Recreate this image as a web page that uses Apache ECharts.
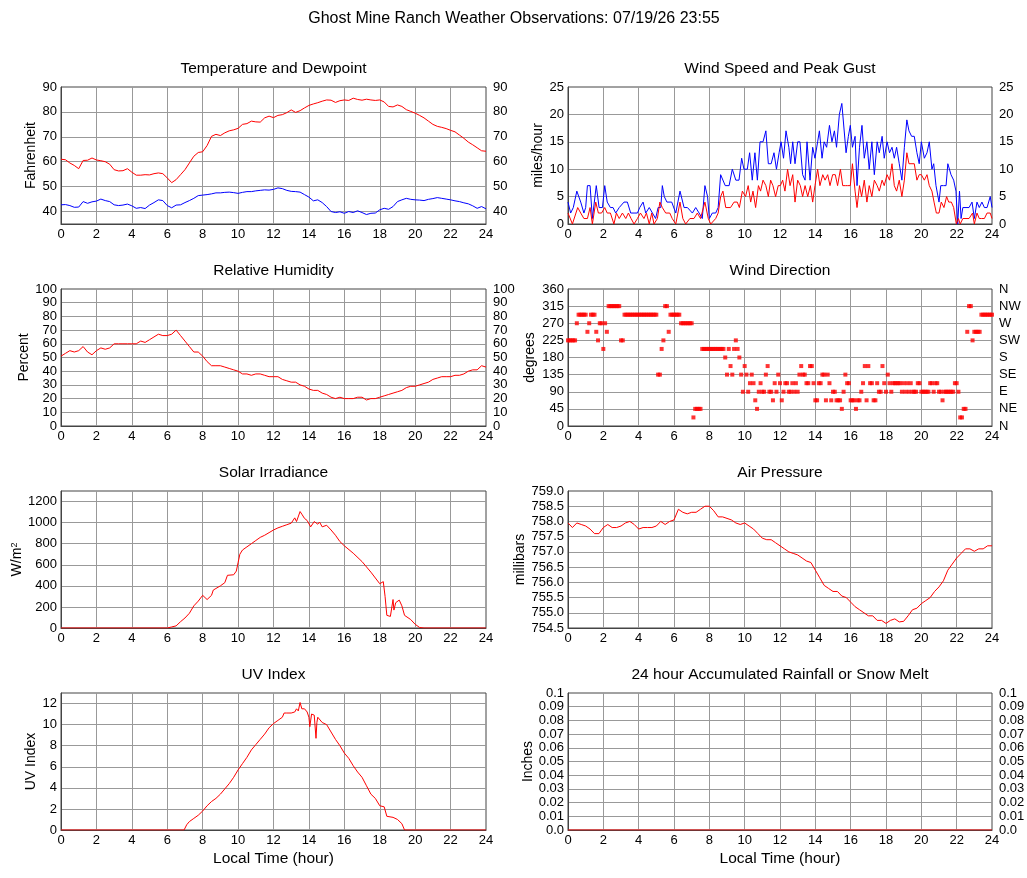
<!DOCTYPE html>
<html>
<head>
<meta charset="utf-8">
<title>Ghost Mine Ranch Weather Observations</title>
<script src="https://cdn.jsdelivr.net/npm/echarts@6/dist/echarts.min.js"></script>
<style>
    html, body { margin: 0; padding: 0; background: #fff; }
    #chart { width: 1027px; height: 878px; }
</style>
</head>
<body>
<div id="chart"></div>
<script>
// 15 minute samples, 0h .. 24h
var STEP = 0.25;

var tempF = [
    61.0, 60.8, 59.5, 58.5,  57.2, 60.5, 60.6, 61.5,  60.7, 60.4, 60.0, 59.0,
    56.8, 56.3, 56.4, 57.2,  55.8, 54.6, 54.6, 54.8,  54.7, 55.2, 55.5, 55.2,
    53.5, 51.6, 52.8, 54.8,  56.8, 59.5, 62.2, 63.7,  64.0, 66.5, 70.2, 71.0,
    70.5, 71.6, 72.4, 72.8,  73.4, 75.0, 75.3, 76.3,  76.0, 75.9, 77.6, 78.3,
    77.7, 78.6, 78.9, 79.7,  80.8, 79.8, 80.5, 81.6,  82.6, 83.2, 83.7, 84.3,
    84.8, 84.7, 83.8, 84.5,  84.8, 84.6, 85.5, 85.0,  84.7, 85.1, 84.8, 84.6,
    84.8, 84.0, 82.2, 82.0,  82.8, 82.2, 80.9, 80.2,  79.5, 78.6, 77.6, 76.3,
    75.0, 74.2, 73.8, 73.3,  72.6, 72.0, 70.7, 69.4,  67.9, 66.8, 65.6, 64.4,
    64.2
];
var dewF = [
    42.7, 42.8, 42.4, 41.7,  41.8, 44.0, 43.3, 43.9,  44.2, 45.0, 44.4, 44.0,
    42.7, 42.4, 42.6, 43.0,  42.3, 41.3, 41.6, 41.2,  42.6, 43.6, 44.7, 44.4,
    42.4, 41.5, 42.6, 42.7,  43.6, 44.4, 45.3, 46.4,  46.6, 46.8, 47.1, 47.5,
    47.5, 47.7, 47.8, 47.6,  47.3, 47.7, 48.0, 48.0,  48.3, 48.5, 48.7, 48.6,
    48.9, 49.5, 49.2, 48.5,  48.1, 48.0, 47.8, 46.8,  45.8, 44.3, 44.7, 43.6,
    42.0, 40.0, 39.6, 39.9,  39.3, 40.0, 39.6, 40.3,  39.6, 38.8, 39.3, 39.4,
    40.7, 41.3, 40.9, 42.0,  44.0, 44.7, 45.3, 44.9,  44.7, 44.6, 44.4, 44.9,
    45.2, 45.6, 45.3, 45.0,  44.7, 44.3, 44.0, 43.5,  43.1, 42.3, 41.3, 42.0,
    41.1
];
var humidityPct = [
    51, 53, 55, 54,  55, 58, 54, 52,  55, 57, 56, 57,  60, 60, 60, 60,
    60, 60, 62, 61,  63, 65, 67, 66,  66, 67, 70, 66,  62, 58, 54, 54,
    51, 47, 44, 44,  44, 43, 42, 41,  40, 38, 38, 37,  38, 38, 37, 36,
    36, 36, 34, 33,  32, 32, 30, 29,  27, 26, 26, 24,  23, 21, 20, 21,
    20, 20, 20, 21,  21, 19, 20, 20,  21, 22, 23, 24,  25, 26, 28, 29,
    29, 30, 31, 32,  34, 35, 36, 36,  36, 37, 37, 38,  40, 41, 41, 44,
    43
];
var pressureMb = [
    757.95, 757.80, 757.95, 757.90,  757.85, 757.75, 757.60, 757.60,
    757.80, 757.90, 757.80, 757.80,  757.85, 757.95, 758.00, 757.90,
    757.75, 757.80, 757.80, 757.80,  757.85, 758.00, 757.90, 758.00,
    758.05, 758.40, 758.30, 758.25,  758.30, 758.30, 758.40, 758.50,
    758.50, 758.35, 758.15, 758.15,  758.10, 758.05, 757.95, 757.90,
    757.95, 757.85, 757.75, 757.60,  757.45, 757.40, 757.40, 757.30,
    757.20, 757.10, 757.00, 756.95,  756.90, 756.80, 756.70, 756.65,
    756.40, 756.15, 755.90, 755.80,  755.70, 755.70, 755.55, 755.50,
    755.35, 755.20, 755.10, 755.00,  754.90, 754.90, 754.75, 754.75,
    754.65, 754.75, 754.80, 754.70,  754.72, 754.90, 755.10, 755.15,
    755.30, 755.40, 755.50, 755.70,  755.85, 756.05, 756.40, 756.60,
    756.80, 756.95, 757.10, 757.10,  757.02, 757.10, 757.10, 757.20,
    757.20
];

var solarHours = [
    0, 6.0, 6.25, 6.5, 6.75, 7.0, 7.25, 7.5, 7.75,
    8.0, 8.1, 8.25, 8.5, 8.6, 8.75, 9.0, 9.25, 9.4, 9.5, 9.75, 9.9,
    10.0, 10.1, 10.25, 10.5, 10.75, 11.0, 11.25, 11.5, 11.75,
    12.0, 12.25, 12.5, 12.75, 13.0, 13.1, 13.2, 13.3, 13.5, 13.6, 13.75, 13.9,
    14.0, 14.1, 14.2, 14.3, 14.4, 14.5, 14.6, 14.75, 15.0, 15.25, 15.5, 15.75,
    16.0, 16.5, 17.0, 17.5,
    18.0, 18.1, 18.2, 18.25, 18.3, 18.4, 18.5, 18.6, 18.7, 18.75, 18.8, 18.9,
    19.0, 19.1, 19.25, 19.4, 19.5, 19.75, 20.0, 20.25, 20.5, 24
];
var solarWm2 = [
    0, 0, 10, 20, 60, 95, 140, 210, 255,
    310, 315, 270, 310, 360, 375, 400, 430, 500, 515, 505, 540,
    620, 700, 740, 770, 800, 830, 860, 880, 905,
    930, 950, 965, 980, 995, 1010, 1045, 1010, 1105, 1080, 1040, 1020,
    1020, 960, 950, 1010, 1015, 985, 1005, 960, 975, 930, 880, 820,
    780, 710, 630, 530,
    420, 410, 440, 455, 300, 120, 105, 110, 110, 270, 170, 240,
    255, 265, 210, 120, 125, 80, 35, 5, 0, 0
];

var uvHours = [
    0, 6.95, 7.1, 7.25, 7.5, 7.75, 8.0, 8.25, 8.5, 8.75,
    9.0, 9.25, 9.5, 9.75, 10.0, 10.25, 10.5, 10.75, 11.0, 11.25, 11.5, 11.75,
    12.0, 12.25, 12.5, 12.6, 12.75, 13.0, 13.2, 13.3, 13.4, 13.5, 13.6, 13.75, 13.9,
    14.0, 14.05, 14.15, 14.3, 14.4, 14.45, 14.5, 14.75, 15.0, 15.25, 15.5, 15.75,
    16.0, 16.25, 16.5, 16.75, 17.0, 17.25, 17.5, 17.75,
    18.0, 18.25, 18.4, 18.5, 18.75, 19.0, 19.25, 19.4, 24
];
var uvIndex = [
    0, 0, 0.5, 0.8, 1.1, 1.4, 1.8, 2.3, 2.7, 3.0,
    3.4, 3.9, 4.4, 5.0, 5.7, 6.3, 6.9, 7.6, 8.1, 8.6, 9.1, 9.7,
    10.1, 10.4, 10.7, 11.1, 11.1, 11.1, 11.2, 11.5, 11.3, 12.1, 11.5, 11.5, 11.2,
    10.7, 9.8, 11.0, 10.9, 8.7, 10.2, 10.7, 10.2, 10.0, 9.3, 8.6, 8.0,
    7.3, 6.8, 6.1, 5.5, 5.0, 4.2, 3.4, 3.0,
    2.3, 2.2, 1.3, 1.2, 1.2, 1.0, 0.6, 0, 0
];

var speedHours = [
    0, 0.25, 0.55, 0.72, 0.9, 1.1, 1.25, 1.38, 1.57, 1.72, 1.9,
    2.08, 2.22, 2.4, 2.6, 2.74, 2.9, 3.08, 3.27, 3.42, 3.57, 3.74, 3.93,
    4.1, 4.3, 4.44, 4.6, 4.74, 4.87, 5.06, 5.2, 5.34, 5.53, 5.76, 5.9,
    6.1, 6.34, 6.5, 6.66, 6.9, 7.13, 7.32, 7.5, 7.75, 7.94,
    8.08, 8.36, 8.5, 8.64, 8.77, 8.93, 9.2, 9.4, 9.58, 9.7, 9.87,
    10.05, 10.2, 10.34, 10.47, 10.62, 10.78, 10.9, 11.04, 11.2, 11.34, 11.47, 11.6, 11.75, 11.9,
    12.02, 12.15, 12.28, 12.43, 12.57, 12.72, 12.85, 13.0, 13.15, 13.28, 13.42, 13.57, 13.72, 13.85, 13.98,
    14.13, 14.26, 14.42, 14.55, 14.7, 14.83, 14.98, 15.13, 15.26, 15.42, 15.55, 15.7, 15.83, 15.98,
    16.1, 16.25, 16.36, 16.5, 16.62, 16.77, 16.92, 17.05, 17.2, 17.34, 17.5, 17.62, 17.78, 17.9,
    18.06, 18.2, 18.34, 18.47, 18.6, 18.75, 18.9, 19.04, 19.18, 19.3, 19.6, 19.75, 19.88,
    20.0, 20.17, 20.32, 20.45, 20.6, 20.72, 20.85, 21.0, 21.13, 21.28, 21.43, 21.55, 21.7, 21.83, 21.98,
    22.1, 22.2, 22.35, 22.7, 22.9, 23.0, 23.15, 23.28, 23.4, 23.57, 23.72, 23.9, 24.0
];
var speedMph = [
    2, 0, 3, 2, 1, 1, 3, 0, 4, 2, 2,
    3, 2, 2, 0, 2, 1, 2, 1, 2, 1, 0, 1,
    2, 1, 2, 0, 2, 0, 1, 4, 3, 2, 2, 1,
    0, 4, 1, 0, 1, 1, 2, 1, 4, 1,
    0, 1, 2, 5, 6, 3, 3, 4, 4, 3, 6,
    5, 7, 4, 6, 3, 7, 6, 8, 7, 5, 8, 7, 5, 7,
    7, 8, 6, 10, 7, 9, 4, 8, 7, 5, 7, 5, 7, 4, 7,
    10, 7, 9, 8, 9, 7, 9, 9, 7, 10, 7, 7, 7, 7,
    11, 6, 3, 7, 5, 8, 4, 7, 5, 8, 7, 6, 8, 7,
    9, 8, 11, 7, 6, 8, 5, 8, 13, 11, 11, 8, 9,
    9, 8, 9, 7, 6, 4, 2, 2, 4, 3, 5, 4, 4, 3, 0,
    1, 0, 1, 1, 2, 0, 2, 1, 1, 1, 2, 2, 1
];
var gustHours = [
    0, 0.15, 0.3, 0.5, 0.72, 0.9, 1.0, 1.1, 1.25, 1.38, 1.6, 1.76, 1.95,
    2.08, 2.22, 2.4, 2.55, 2.7, 2.9, 3.17, 3.36, 3.55, 3.74, 3.93,
    4.06, 4.25, 4.4, 4.6, 4.78, 4.96, 5.1, 5.25, 5.34, 5.45, 5.6, 5.87,
    6.1, 6.34, 6.57, 6.76, 7.04, 7.23, 7.42, 7.6, 7.75, 7.9,
    8.0, 8.17, 8.36, 8.5, 8.64, 8.9, 9.12, 9.3, 9.5, 9.68, 9.83, 9.96,
    10.15, 10.28, 10.43, 10.58, 10.72, 10.87, 11.04, 11.2, 11.34, 11.5, 11.66, 11.8, 11.95,
    12.06, 12.2, 12.34, 12.5, 12.6, 12.72, 12.85, 13.0, 13.13, 13.28, 13.42, 13.53, 13.7, 13.85, 13.98,
    14.13, 14.23, 14.38, 14.5, 14.64, 14.8, 14.94, 15.08, 15.2, 15.36, 15.5, 15.6, 15.74, 15.87, 15.98,
    16.1, 16.25, 16.36, 16.5, 16.64, 16.77, 16.92, 17.05, 17.2, 17.34, 17.5, 17.62, 17.78, 17.9,
    18.06, 18.2, 18.34, 18.47, 18.6, 18.75, 18.9, 19.04, 19.18, 19.3, 19.45, 19.6, 19.75, 19.88,
    20.0, 20.17, 20.32, 20.45, 20.6, 20.7, 20.83, 21.0, 21.1, 21.26, 21.4, 21.5, 21.68, 21.83, 21.96,
    22.06, 22.16, 22.25, 22.35, 22.7, 22.87, 23.0, 23.15, 23.28, 23.43, 23.57, 23.72, 23.9, 24.0
];
var gustMph = [
    4, 2, 3, 6, 4, 2, 3, 7, 7, 1, 7, 3, 3,
    7, 4, 3, 3, 2, 3, 4, 4, 2, 2, 2,
    3, 4, 2, 3, 2, 1, 3, 3, 7, 5, 4, 4,
    2, 6, 3, 3, 2, 3, 2, 1, 7, 5,
    1, 2, 2, 3, 9, 7, 7, 10, 8, 8, 12, 10,
    10, 13, 8, 13, 8, 15, 15, 17, 11, 11, 13, 10, 13,
    15, 12, 17, 14, 11, 15, 11, 15, 15, 9, 8, 15, 8, 14, 12,
    15, 17, 12, 15, 14, 18, 15, 17, 14, 20, 22, 22, 13, 16, 18,
    14, 16, 7, 14, 18, 12, 15, 10, 15, 9, 15, 13, 16, 12,
    15, 13, 14, 12, 14, 11, 8, 14, 19, 17, 16, 16, 13, 11,
    15, 12, 13, 15, 10, 11, 7, 4, 7, 7, 7, 11, 9, 8, 6,
    0, 6, 1, 3, 3, 4, 1, 4, 3, 4, 3, 3, 5, 3
];

// wind direction, one reading every 6 minutes
var DIR_STEP = 0.1;
var windDirDeg = [
    225, 225, 225, 225, 225, 270, 292.5, 292.5, 292.5, 292.5,
    292.5, 247.5, 270, 292.5, 292.5, 292.5, 247.5, 225, 270, 270,
    202.5, 270, 247.5, 315, 315, 315, 315, 315, 315, 315,
    225, 225, 292.5, 292.5, 292.5, 292.5, 292.5, 292.5, 292.5, 292.5,
    292.5, 292.5, 292.5, 292.5, 292.5, 292.5, 292.5, 292.5, 292.5, 292.5,
    292.5, 135, 135, 202.5, 225, 315, 315, 247.5, 292.5, 292.5,
    292.5, 292.5, 292.5, 292.5, 270, 270, 270, 270, 270, 270,
    270, 22.5, 45, 45, 45, 45, 202.5, 202.5, 202.5, 202.5,
    202.5, 202.5, 202.5, 202.5, 202.5, 202.5, 202.5, 202.5, 202.5, 180,
    135, 202.5, 157.5, 135, 202.5, 225, 202.5, 180, 135, 90,
    157.5, 135, 90, 112.5, 135, 112.5, 67.5, 45, 90, 112.5,
    90, 90, 135, 157.5, 90, 90, 67.5, 112.5, 90, 135,
    112.5, 67.5, 90, 112.5, 112.5, 90, 90, 112.5, 90, 112.5,
    90, 135, 157.5, 135, 135, 112.5, 112.5, 157.5, 157.5, 112.5,
    67.5, 67.5, 112.5, 112.5, 135, 135, 67.5, 135, 112.5, 67.5,
    90, 90, 67.5, 67.5, 67.5, 45, 90, 135, 112.5, 112.5,
    67.5, 67.5, 67.5, 45, 67.5, 67.5, 90, 112.5, 157.5, 67.5,
    157.5, 112.5, 112.5, 67.5, 67.5, 112.5, 90, 90, 157.5, 112.5,
    90, 135, 112.5, 90, 112.5, 112.5, 112.5, 112.5, 112.5, 90,
    112.5, 90, 112.5, 90, 112.5, 90, 90, 90, 112.5, 112.5,
    90, 90, 90, 90, 90, 112.5, 112.5, 90, 112.5, 112.5,
    90, 90, 67.5, 90, 90, 90, 90, 90, 90, 112.5,
    112.5, 90, 22.5, 22.5, 45, 45, 247.5, 315, 315, 225,
    247.5, 247.5, 247.5, 247.5, 292.5, 292.5, 292.5, 292.5, 292.5, 292.5,
    292.5
];

var rainHours = [0, 24];
var rainInches = [0, 0];

var compassLabels = ['N', 'NE', 'E', 'SE', 'S', 'SW', 'W', 'NW', 'N'];

function evenly(values, step) {
    return values.map(function (v, i) { return [i * step, v]; });
}
function paired(hours, values) {
    return hours.map(function (h, i) { return [h, values[i]]; });
}

var FONT = '"Liberation Sans", Arial, Helvetica, sans-serif';
var RED = '#ff0000', BLUE = '#0000ff';
var GRID_LEFT = [61, 568], GRID_WIDTH = [425, 424];
var GRID_TOP = [87, 289, 491, 693], GRID_HEIGHT = 137;

var panels = [
    { title: 'Temperature and Dewpoint', col: 0, row: 0 },
    { title: 'Wind Speed and Peak Gust', col: 1, row: 0 },
    { title: 'Relative Humidity', col: 0, row: 1 },
    { title: 'Wind Direction', col: 1, row: 1 },
    { title: 'Solar Irradiance', col: 0, row: 2 },
    { title: 'Air Pressure', col: 1, row: 2 },
    { title: 'UV Index', col: 0, row: 3 },
    { title: '24 hour Accumulated Rainfall or Snow Melt', col: 1, row: 3 }
];

var titles = [{
    text: 'Ghost Mine Ranch Weather Observations: 07/19/26 23:55',
    left: 514, top: 11, textAlign: 'center', padding: 0,
    textStyle: { fontFamily: FONT, fontSize: 16, fontWeight: 'normal', color: '#000' }
}];
var grids = [];
var xAxes = [];

panels.forEach(function (p, i) {
    titles.push({
        text: p.title,
        left: GRID_LEFT[p.col] + GRID_WIDTH[p.col] / 2,
        top: GRID_TOP[p.row] - 26,
        textAlign: 'center', padding: 0,
        textStyle: { fontFamily: FONT, fontSize: 15.5, fontWeight: 'normal', color: '#000' }
    });
    grids.push({
        left: GRID_LEFT[p.col], top: GRID_TOP[p.row],
        width: GRID_WIDTH[p.col], height: GRID_HEIGHT,
        show: true, borderColor: '#444', borderWidth: 1,
        outerBoundsMode: 'none'
    });
    xAxes.push({
        type: 'value', gridIndex: i, min: 0, max: 24, interval: 2,
        name: p.row === 3 ? 'Local Time (hour)' : '',
        nameLocation: 'middle', nameGap: 21,
        nameTextStyle: { fontFamily: FONT, fontSize: 15.5, color: '#000' },
        axisLine: { show: true, lineStyle: { color: '#444' } },
        axisTick: { show: false },
        axisLabel: { fontFamily: FONT, fontSize: 13, color: '#000', margin: 4 },
        splitLine: { show: true, showMinLine: false, showMaxLine: false, lineStyle: { color: '#999' } }
    });
});

function yAxis(gridIndex, o, right) {
    var ax = {
        type: 'value', gridIndex: gridIndex, min: o.min, max: o.max,
        position: right ? 'right' : 'left',
        axisLine: { show: !right, lineStyle: { color: '#444' } },
        axisTick: { show: false },
        axisLabel: {
            fontFamily: FONT, fontSize: 13, color: '#000',
            margin: right ? 7 : 4, formatter: o.fmt
        },
        splitLine: {
            show: !right, showMinLine: false, showMaxLine: false,
            lineStyle: { color: '#999' }
        }
    };
    if (o.interval) ax.interval = o.interval;
    if (!right && o.name) {
        ax.name = o.name;
        ax.nameLocation = 'middle';
        ax.nameGap = o.gap;
        ax.nameTextStyle = {
            fontFamily: FONT, fontSize: 14, color: '#000',
            rich: { sup: { fontFamily: FONT, fontSize: 9, color: '#000', verticalAlign: 'top', padding: [0, 0, 6, 0] } }
        };
    }
    return ax;
}

var yDefs = [
    { min: 35, max: 90, name: 'Fahrenheit', gap: 23,
      fmt: function (v) { return v % 10 === 0 ? v : ''; } },
    { min: 0, max: 25, interval: 5, name: 'miles/hour', gap: 22 },
    { min: 0, max: 100, interval: 10, name: 'Percent', gap: 25 },
    { min: 0, max: 360, interval: 45, name: 'degrees', gap: 31 },
    { min: 0, max: 1300, interval: 200, name: 'W/m{sup|2}', gap: 32,
      fmt: function (v) { return v > 1200 ? '' : v; } },
    { min: 754.5, max: 759, interval: 0.5, name: 'millibars', gap: 35,
      fmt: function (v) { return v.toFixed(1); } },
    { min: 0, max: 13, interval: 2, name: 'UV Index', gap: 22,
      fmt: function (v) { return v > 12 ? '' : v; } },
    { min: 0, max: 0.1, interval: 0.01, name: 'Inches', gap: 31,
      fmt: function (v) { return v === 0 ? '0.0' : String(+v.toFixed(2)); } }
];

var yAxes = yDefs.map(function (d, i) { return yAxis(i, d, false); });
// right hand labels
yAxes.push(yAxis(0, yDefs[0], true));   // 8
yAxes.push(yAxis(1, yDefs[1], true));   // 9
yAxes.push(yAxis(2, yDefs[2], true));   // 10
yAxes.push(yAxis(3, { min: 0, max: 360, interval: 45,
    fmt: function (v) { return compassLabels[Math.round(v / 45)]; } }, true)); // 11
yAxes.push(yAxis(7, yDefs[7], true));   // 12

function line(idx, data, color) {
    return {
        type: 'line', xAxisIndex: idx, yAxisIndex: idx, data: data,
        showSymbol: false, symbol: 'none', silent: true,
        lineStyle: { color: color, width: 1 }
    };
}

var chart = echarts.init(document.getElementById('chart'));
chart.setOption({
    animation: false,
    backgroundColor: '#fff',
    title: titles,
    grid: grids,
    xAxis: xAxes,
    yAxis: yAxes,
    series: [
        line(0, evenly(tempF, STEP), RED),
        line(0, evenly(dewF, STEP), BLUE),
        line(1, paired(gustHours, gustMph), BLUE),
        line(1, paired(speedHours, speedMph), RED),
        line(2, evenly(humidityPct, STEP), RED),
        {
            type: 'scatter', xAxisIndex: 3, yAxisIndex: 3,
            data: evenly(windDirDeg, DIR_STEP),
            symbol: 'rect', symbolSize: 4, silent: true,
            itemStyle: { color: RED }
        },
        line(4, paired(solarHours, solarWm2), RED),
        line(5, evenly(pressureMb, STEP), RED),
        line(6, paired(uvHours, uvIndex), RED),
        line(7, paired(rainHours, rainInches), RED)
    ]
});
</script>
</body>
</html>
